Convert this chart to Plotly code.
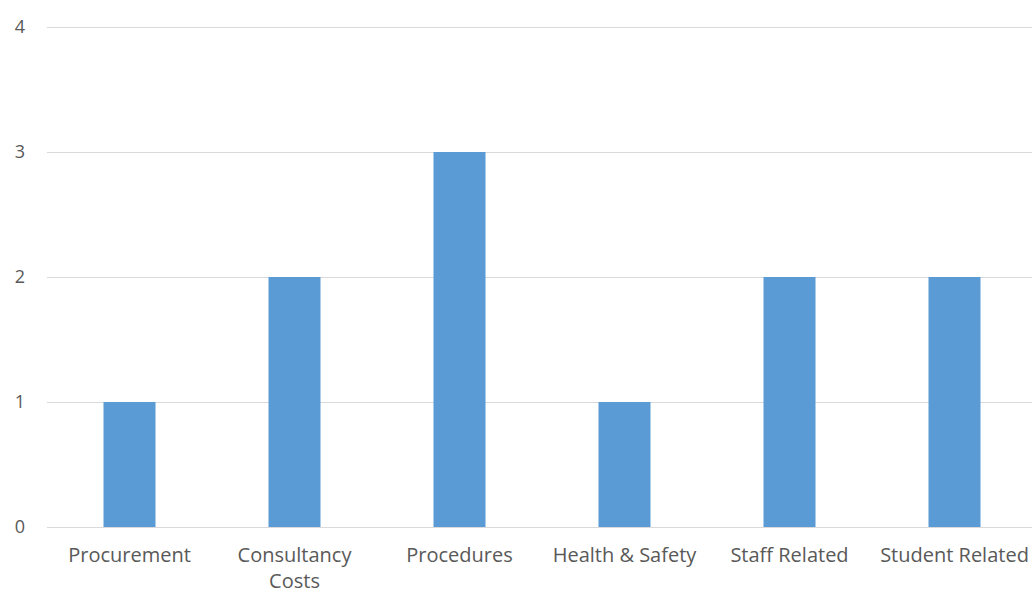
import plotly.graph_objects as go

categories = ["Procurement", "Consultancy<br>Costs", "Procedures", "Health & Safety", "Staff Related", "Student Related"]
values = [1, 2, 3, 1, 2, 2]

fig = go.Figure(go.Bar(x=categories, y=values, marker=dict(color="#5B9BD5", line=dict(width=0))))

W, H = 1032, 595
left, bottom = 47, 68
px_per_cat = 165
plot_w = W - left
ymax = 4.024  # small headroom so the top gridline at 4 is drawn
fig.update_layout(
    width=W, height=H,
    margin=dict(l=left, r=0, t=24, b=bottom, pad=0),
    paper_bgcolor="white", plot_bgcolor="white",
    bargap=1 - 52 / 165,
    showlegend=False,
    font=dict(family="Open Sans, sans-serif", size=20, color="#595959"),
)
fig.update_xaxes(
    range=[-0.5, -0.5 + plot_w / px_per_cat],
    showgrid=False, showline=False, zeroline=False,
    ticks="", ticklabelstandoff=14,
    tickfont=dict(size=20, color="#595959"),
)
fig.update_yaxes(
    range=[0, ymax], dtick=1, tick0=0,
    showgrid=True, gridcolor="#D9D9D9", gridwidth=1,
    zeroline=True, zerolinecolor="#D9D9D9", zerolinewidth=1,
    showline=False, ticks="", ticklabelstandoff=21,
    tickfont=dict(size=18, color="#595959"),
)
fig.write_html("out.html")
